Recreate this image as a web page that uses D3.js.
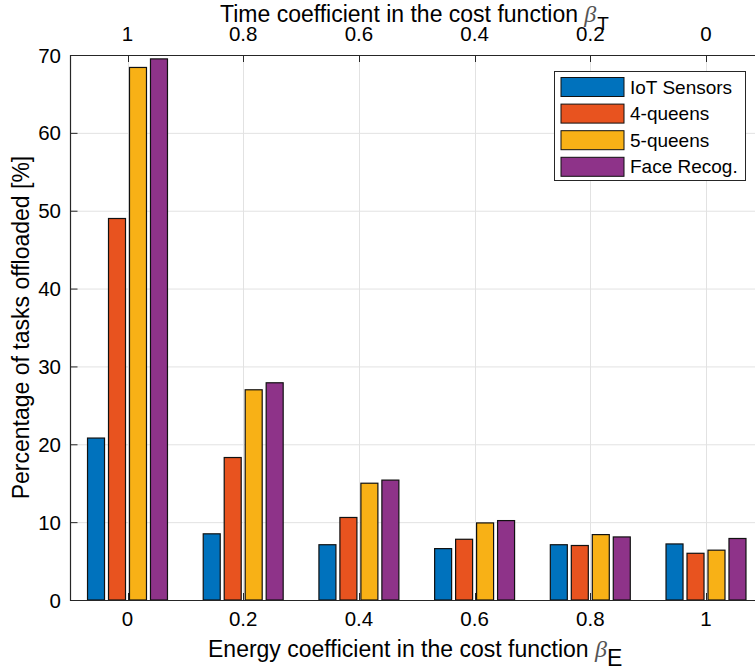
<!DOCTYPE html>
<html>
<head>
<meta charset="utf-8">
<script src="https://cdn.jsdelivr.net/npm/d3@7"></script>
<style>
  html, body { margin: 0; padding: 0; background: #fff; }
  svg { display: block; }
  text { font-family: "Liberation Sans", Arial, Helvetica, sans-serif; fill: #000; }
</style>
</head>
<body>
<svg id="chart" width="755" height="672"></svg>
<script>
// ---- data ----
const energyLabels = ["0", "0.2", "0.4", "0.6", "0.8", "1"];
const timeLabels = ["1", "0.8", "0.6", "0.4", "0.2", "0"];
const seriesNames = ["IoT Sensors", "4-queens", "5-queens", "Face Recog."];
const iotSensors = [20.8, 8.5, 7.1, 6.6, 7.1, 7.2];
const queens4 = [49.0, 18.3, 10.6, 7.8, 7.0, 6.0];
const queens5 = [68.4, 27.0, 15.0, 9.9, 8.4, 6.4];
const faceRecog = [69.5, 27.9, 15.4, 10.2, 8.1, 7.9];
const yTicks = [0, 10, 20, 30, 40, 50, 60, 70];
const seriesColors = ["#0072BD", "#E8531F", "#F8B116", "#8E3389"];

const seriesValues = [iotSensors, queens4, queens5, faceRecog];

// ---- layout ----
const pL = 70.5, pT = 55, pB = 600, pR = 755;
const svg = d3.select("#chart");

const x = d3.scaleLinear().domain([0, energyLabels.length - 1]).range([127.5, 706]);
const y = d3.scaleLinear().domain([0, 70]).range([pB, pT]);
const groupStep = x(1) - x(0);
const inner = d3.scaleBand()
  .domain(seriesNames)
  .range([-0.3455 * groupStep, 0.3455 * groupStep])
  .paddingInner(0.19);

const axisColor = "#262626";
const gridColor = "#e2e2e2";
const tickLen = 7;

// grid
const grid = svg.append("g");
grid.selectAll("line.h").data(yTicks.filter(t => t > 0 && t < 70)).enter()
  .append("line")
  .attr("x1", pL).attr("x2", pR)
  .attr("y1", d => y(d) + 0.5).attr("y2", d => y(d) + 0.5)
  .attr("stroke", gridColor).attr("stroke-width", 1);
grid.selectAll("line.v").data(energyLabels).enter()
  .append("line")
  .attr("x1", (d, i) => Math.round(x(i)) + 0.5).attr("x2", (d, i) => Math.round(x(i)) + 0.5)
  .attr("y1", pT).attr("y2", pB)
  .attr("stroke", gridColor).attr("stroke-width", 1);

// ticks (inward)
const ticks = svg.append("g").attr("stroke", axisColor).attr("stroke-width", 1);
energyLabels.forEach((d, i) => {
  const px = Math.round(x(i)) + 0.5;
  ticks.append("line").attr("x1", px).attr("x2", px).attr("y1", pB).attr("y2", pB - tickLen);
  ticks.append("line").attr("x1", px).attr("x2", px).attr("y1", pT).attr("y2", pT + tickLen);
});
yTicks.forEach(t => {
  const py = y(t) + 0.5;
  ticks.append("line").attr("x1", pL).attr("x2", pL + tickLen).attr("y1", py).attr("y2", py);
});

// bars
const barsG = svg.append("g");
seriesValues.forEach((vals, s) => {
  barsG.selectAll(null).data(vals).enter()
    .append("rect")
    .attr("x", (d, i) => x(i) + inner(seriesNames[s]))
    .attr("width", inner.bandwidth())
    .attr("y", d => y(d))
    .attr("height", d => y(0) - y(d))
    .attr("fill", seriesColors[s])
    .attr("stroke", "#111")
    .attr("stroke-width", 1.2);
});

// axis lines
svg.append("line").attr("x1", pL).attr("x2", pR).attr("y1", pB + 0.5).attr("y2", pB + 0.5)
  .attr("stroke", axisColor).attr("stroke-width", 1.2);
svg.append("line").attr("x1", pL).attr("x2", pR).attr("y1", pT + 0.5).attr("y2", pT + 0.5)
  .attr("stroke", axisColor).attr("stroke-width", 1.2);
svg.append("line").attr("x1", pL).attr("x2", pL).attr("y1", pT).attr("y2", pB + 1)
  .attr("stroke", axisColor).attr("stroke-width", 1.2);

// tick labels
const tickFont = 20.5;
svg.append("g").selectAll("text").data(energyLabels).enter()
  .append("text")
  .attr("x", (d, i) => x(i)).attr("y", 626)
  .attr("text-anchor", "middle").attr("font-size", tickFont)
  .text(d => d);
svg.append("g").selectAll("text").data(timeLabels).enter()
  .append("text")
  .attr("x", (d, i) => x(i)).attr("y", 40.5)
  .attr("text-anchor", "middle").attr("font-size", tickFont)
  .text(d => d);
svg.append("g").selectAll("text").data(yTicks).enter()
  .append("text")
  .attr("x", 61).attr("y", d => y(d) + 7.5)
  .attr("text-anchor", "end").attr("font-size", tickFont)
  .text(d => d);

// axis titles
const titleFont = 23;
const bt = svg.append("text").attr("x", 208).attr("y", 657).attr("font-size", titleFont);
bt.append("tspan").text("Energy coefficient in the cost function ");
bt.append("tspan").attr("font-family", "Liberation Serif, serif").attr("font-style", "italic")
  .attr("font-size", 24).attr("fill", "#555").text("β");
bt.append("tspan").attr("dy", 9).text("E");

const tt = svg.append("text").attr("x", 220).attr("y", 21.5).attr("font-size", titleFont);
tt.append("tspan").text("Time coefficient in the cost function ");
tt.append("tspan").attr("font-family", "Liberation Serif, serif").attr("font-style", "italic")
  .attr("font-size", 24).attr("fill", "#555").text("β");
tt.append("tspan").attr("dy", 8).attr("dx", 1).attr("font-size", 19).text("T");

svg.append("text")
  .attr("transform", "translate(29," + ((pT + pB) / 2) + ") rotate(-90)")
  .attr("text-anchor", "middle").attr("font-size", titleFont)
  .text("Percentage of tasks offloaded [%]");

// legend
const lg = svg.append("g");
lg.append("rect").attr("x", 554.5).attr("y", 71.5).attr("width", 191).attr("height", 109)
  .attr("fill", "#fff").attr("stroke", axisColor).attr("stroke-width", 1);
seriesNames.forEach((name, s) => {
  const ry = 77.5 + s * 26.6;
  lg.append("rect").attr("x", 561).attr("y", ry).attr("width", 63).attr("height", 19)
    .attr("fill", seriesColors[s]).attr("stroke", "#111").attr("stroke-width", 1);
  lg.append("text").attr("x", 630).attr("y", ry + 16).attr("font-size", 19).text(name);
});
</script>
</body>
</html>
